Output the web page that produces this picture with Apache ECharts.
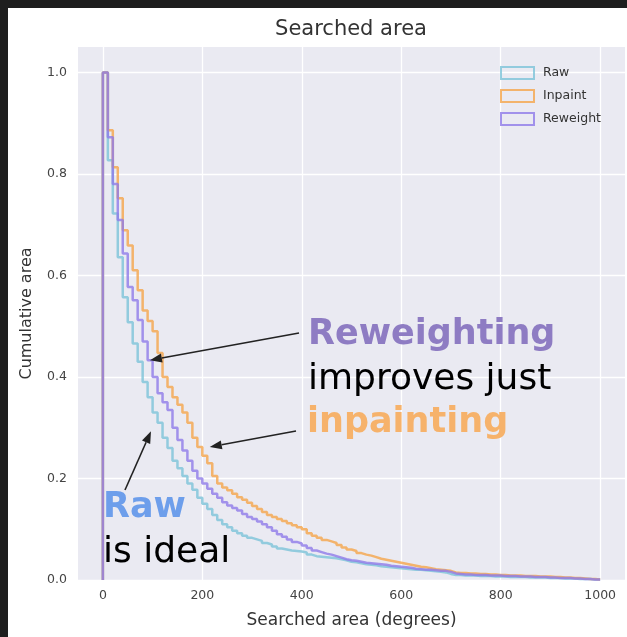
<!DOCTYPE html>
<html><head><meta charset="utf-8">
<script src="https://cdn.jsdelivr.net/npm/echarts@6/dist/echarts.min.js"></script>
<style>
html,body{margin:0;padding:0;background:#1e1e1e;width:627px;height:637px;overflow:hidden}
#c{position:absolute;left:8px;top:8px;width:619px;height:629px;background:#fff}
</style></head><body><div id="c"></div>
<script>
// bin width (degrees) of the cumulative step histogram
const binWidth = 10;
// values per 10-degree bin, starting at 0 degrees
const raw = [1.0,0.827,0.722,0.636,0.557,0.508,0.466,0.43,0.39,0.36,
0.33,0.31,0.28,0.26,0.235,0.22,0.205,0.19,0.178,0.162,
0.15,0.14,0.128,0.118,0.11,0.104,0.097,0.092,0.087,0.083,
0.08,0.077,0.073,0.07,0.066,0.062,0.06,0.058,0.057,0.056,
0.054,0.05,0.047,0.046,0.045,0.044,0.043,0.041,0.039,0.036,
0.035,0.033,0.031,0.03,0.029,0.027,0.026,0.025,0.024,0.023,
0.022,0.021,0.02,0.02,0.019,0.018,0.017,0.016,0.015,0.012,
0.01,0.01,0.009,0.009,0.009,0.008,0.008,0.008,0.007,0.007,
0.007,0.006,0.006,0.006,0.006,0.005,0.005,0.005,0.005,0.004,
0.004,0.004,0.003,0.003,0.003,0.002,0.002,0.002,0.001,0.001];
const inpaint = [1.0,0.886,0.813,0.752,0.689,0.659,0.61,0.571,0.531,0.51,
0.49,0.447,0.40,0.38,0.36,0.345,0.33,0.31,0.28,0.262,
0.245,0.23,0.205,0.19,0.182,0.177,0.17,0.163,0.158,0.152,
0.146,0.14,0.134,0.128,0.124,0.12,0.116,0.112,0.108,0.104,
0.1,0.092,0.087,0.083,0.079,0.076,0.073,0.069,0.064,0.06,
0.057,0.053,0.05,0.048,0.045,0.042,0.04,0.038,0.036,0.034,
0.032,0.03,0.028,0.026,0.025,0.023,0.021,0.02,0.019,0.018,
0.015,0.014,0.014,0.013,0.013,0.012,0.012,0.011,0.011,0.01,
0.01,0.009,0.009,0.009,0.008,0.008,0.008,0.007,0.007,0.007,
0.006,0.006,0.005,0.005,0.004,0.004,0.003,0.002,0.002,0.001];
const reweight = [1.0,0.872,0.78,0.709,0.643,0.577,0.551,0.512,0.47,0.433,
0.40,0.368,0.35,0.335,0.30,0.276,0.255,0.235,0.215,0.2,
0.19,0.18,0.17,0.162,0.153,0.147,0.142,0.137,0.13,0.124,
0.12,0.115,0.11,0.104,0.097,0.09,0.085,0.08,0.075,0.072,
0.068,0.063,0.058,0.055,0.052,0.05,0.047,0.044,0.041,0.039,
0.038,0.036,0.034,0.033,0.032,0.031,0.03,0.028,0.027,0.026,
0.025,0.024,0.022,0.021,0.02,0.02,0.019,0.018,0.018,0.016,
0.013,0.012,0.011,0.011,0.01,0.01,0.01,0.009,0.009,0.009,
0.008,0.008,0.008,0.007,0.007,0.007,0.006,0.006,0.006,0.005,
0.005,0.004,0.004,0.004,0.003,0.003,0.002,0.002,0.001,0.001];
const seriesNames = ['Raw','Inpaint','Reweight'];
const xTicks = [0,200,400,600,800,1000];
const yTicks = [0,0.2,0.4,0.6,0.8,1.0];
// annotation arrow tips in data coordinates [degrees, value]
const arrowTips = [[94.7,0.433],[215,0.262],[96.7,0.293]];

const colors = ['rgba(124,195,216,0.8)','rgba(245,165,74,0.8)','rgba(143,122,232,0.8)'];
const FONT = 'DejaVu Sans';

function stepPoints(vals){
  const pts=[[0,0]];
  vals.forEach((v,i)=>{pts.push([i*binWidth,v]);pts.push([(i+1)*binWidth,v]);});
  pts.push([vals.length*binWidth,0]);
  return pts;
}
const chart = echarts.init(document.getElementById('c'), null, {renderer:'canvas'});
const dataSets=[raw,inpaint,reweight];
chart.setOption({
  animation:false,
  grid:{left:70,top:39,right:2,bottom:57,show:true,backgroundColor:'#EAEAF2',borderWidth:0},
  legend:{
    orient:'vertical',left:487,top:53,itemWidth:33,itemHeight:12,itemGap:9,
    textStyle:{fontFamily:FONT,fontSize:12.5,color:'#333',padding:[0,0,0,4]},
    data:seriesNames.map((n,i)=>({name:n,icon:'rect',itemStyle:{color:'rgba(0,0,0,0)',borderColor:colors[i],borderWidth:2}}))
  },
  xAxis:{type:'value',min:-50,max:1050,
    axisLine:{show:false},axisTick:{show:false,customValues:xTicks},
    axisLabel:{customValues:xTicks,margin:9,fontFamily:FONT,fontSize:12.5,color:'#444',formatter:v=>String(v)},
    splitLine:{show:true,lineStyle:{color:'#fff',width:1.3}},
    name:'Searched area (degrees)',nameLocation:'middle',nameGap:32,
    nameTextStyle:{fontFamily:FONT,fontSize:17,color:'#333'}},
  yAxis:{type:'value',min:0,max:1.05,
    axisLine:{show:false},axisTick:{show:false,customValues:yTicks},
    axisLabel:{customValues:yTicks,margin:11,fontFamily:FONT,fontSize:12.5,color:'#444',formatter:v=>v.toFixed(1)},
    splitLine:{show:true,lineStyle:{color:'#fff',width:1.3}},
    name:'Cumulative area',nameLocation:'middle',nameGap:43,
    nameTextStyle:{fontFamily:FONT,fontSize:16,color:'#333'}},
  series:seriesNames.map((n,i)=>({
    name:n,type:'line',data:stepPoints(dataSets[i]),showSymbol:false,symbol:'none',
    lineStyle:{color:colors[i],width:2.5},itemStyle:{color:colors[i]},z:2+i
  }))
});

function arrow(tail, tip){
  const dx=tip[0]-tail[0], dy=tip[1]-tail[1]; const L=Math.hypot(dx,dy);
  const ux=dx/L, uy=dy/L, hl=12, hw=4.5;
  const bx=tip[0]-ux*hl, by=tip[1]-uy*hl;
  return [
    {type:'line',shape:{x1:tail[0],y1:tail[1],x2:bx,y2:by},style:{stroke:'#222',lineWidth:1.6},z:50},
    {type:'polygon',shape:{points:[[tip[0],tip[1]],[bx-uy*hw,by+ux*hw],[bx+uy*hw,by-ux*hw]]},style:{fill:'#222'},z:50}
  ];
}
const tipsPx = arrowTips.map(p=>chart.convertToPixel({gridIndex:0},p));
const tails = [[291,325],[288,423],[117,482]];
let g=[];
g.push({type:'text',x:343,y:22,style:{text:'Searched area',font:'21px "DejaVu Sans"',fill:'#333',align:'center',verticalAlign:'middle'},z:50});
const txt=(t,x,y,bold,size,color)=>({type:'text',x:x,y:y,style:{text:t,font:(bold?'bold ':'')+size+'px "DejaVu Sans"',fill:color,align:'left',verticalAlign:'middle'},z:60});
g.push(txt('Reweighting',300,327,true,35,'#8e7cc3'));
g.push(txt('improves just',300,372,false,36,'#000'));
g.push(txt('inpainting',299,415,true,35,'#f6b26b'));
g.push(txt('Raw',95,500,true,35,'#6d9eeb'));
g.push(txt('is ideal',95,545,false,36,'#000'));
tails.forEach((t,i)=>{g=g.concat(arrow(t,tipsPx[i]));});
chart.setOption({graphic:g});
</script></body></html>
